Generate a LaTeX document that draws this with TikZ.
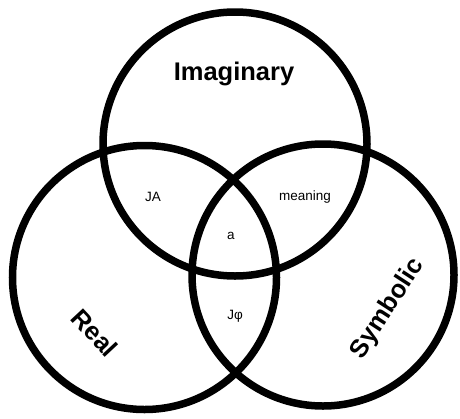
\documentclass[tikz,border=0pt]{standalone}
\usepackage{fontspec}
\setmainfont{Liberation Sans}
\begin{document}
\begin{tikzpicture}[x=1pt,y=-1pt,
  ring/.style={circle,draw=black,line width=7.5pt,inner sep=0pt},
  big/.style={font=\fontsize{25.5}{29}\selectfont\bfseries},
  small/.style={font=\fontsize{13.5}{16}\selectfont}]
\useasboundingbox (0,0) rectangle (460,418);
\fill[white] (0,0) rectangle (460,418);
\node[ring,minimum size=264pt] (imag) at (235,144) {};
\node[ring,minimum size=264pt] (real) at (144.5,277.5) {};
\node[ring,minimum size=262pt] (symb) at (323,275) {};
\node[big] (limag) at (234,74) {Imaginary};
\node[big,rotate=-47] (lreal) at (95,333) {Real};
\node[big,rotate=57] (lsymb) at (388,309) {Symbolic};
\node[small] (ja) at (153,197) {JA};
\node[small] (mean) at (305,197) {meaning};
\node[small] (a) at (231,236) {a};
\node[small] (jphi) at (235,316) {Jφ};
\end{tikzpicture}
\end{document}
